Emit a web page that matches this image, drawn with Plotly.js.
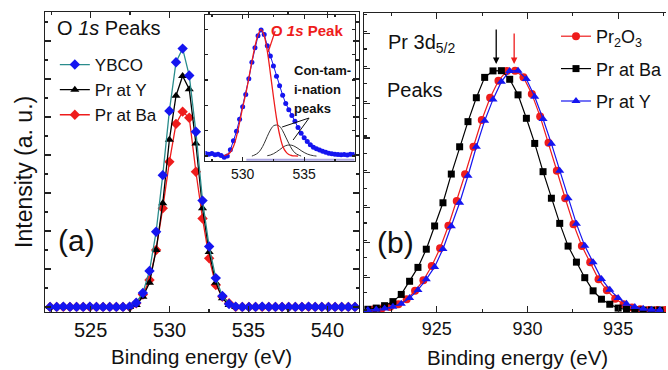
<!DOCTYPE html>
<html><head><meta charset="utf-8">
<script src="https://cdn.plot.ly/plotly-3.0.1.min.js"></script>
<style>html,body{margin:0;padding:0;background:#fff}#c{width:668px;height:370px}</style>
</head><body><div id="c"></div>
<script>
// ---------- Panel (a): O 1s peaks ----------
const energyA = [522.43,522.85,523.27,523.69,524.11,524.53,524.95,525.37,525.79,526.21,526.63,527.05,527.47,527.89,528.31,528.73,529.15,529.57,529.99,530.41,530.83,531.25,531.67,532.09,532.51,532.93,533.35,533.77,534.19,534.61,535.03,535.45,535.87,536.29,536.71,537.13,537.55,537.97,538.39,538.81,539.23,539.65,540.07,540.49,540.91,541.33,541.75];
const ybco    = [0,0,0.01,0,0,0,0.01,0,0,0,0,0,0.01,0.11,0.37,0.95,1.98,3.47,5.16,6.44,6.80,6.09,4.61,2.80,1.59,0.76,0.29,0.08,0.01,0,0,0,0.01,0,0,0,0,0,0,0.01,0,0,0,0,0,0,0];
const prAtY_a = [0,0,0,0,0,0,0,0,0,0,0,0,0,0.05,0.27,0.64,1.5,2.73,4.4,5.56,6.08,5.73,4.3,2.6,1.45,0.64,0.23,0.05,0,0,0,0,0,0,0,0,0,0,0,0,0,0,0,0,0,0,0];
const prAtBa_a= [0,0,0,0,0,0,0,0,0,0,0,0,0,0.1,0.33,0.71,1.5,2.6,3.82,4.82,5.14,4.98,3.56,2.33,1.28,0.58,0.27,0.1,0,0,0,0,0,0,0,0,0,0,0,0,0,0,0,0,0,0,0];

// ---------- Inset: O 1s fit ----------
const insetE = [527.0,527.25,527.5,527.75,528.0,528.25,528.5,528.75,529.0,529.25,529.5,529.75,530.0,530.25,530.5,530.75,531.0,531.25,531.5,531.75,532.0,532.25,532.5,532.75,533.0,533.25,533.5,533.75,534.0,534.25,534.5,534.75,535.0,535.25,535.5,535.75,536.0,536.25,536.5,536.75,537.0,537.25,537.5,537.75,538.0,538.25,538.5,538.75,539.0];
const insetData = [0.02,0.015,0.02,0.01,0.015,0.005,-0.01,0.0,0.05,0.12,0.195,0.29,0.39,0.485,0.61,0.74,0.855,0.95,0.995,0.96,0.87,0.79,0.71,0.63,0.555,0.48,0.415,0.365,0.32,0.275,0.225,0.18,0.145,0.115,0.09,0.07,0.058,0.047,0.038,0.03,0.022,0.018,0.015,0.012,0.01,0.012,0.008,0.015,0.012];
const mainFitE = [528.5,528.75,529.0,529.25,529.5,529.75,530.0,530.25,530.5,530.75,531.0,531.25,531.5,531.75,532.0,532.25,532.5,532.75,533.0,533.25,533.5,533.75,534.0,534.25,534.5];
const mainFit  = [0.003,0.012,0.03,0.075,0.155,0.265,0.385,0.49,0.615,0.745,0.865,0.955,0.997,0.95,0.83,0.655,0.47,0.3,0.17,0.08,0.035,0.012,0.004,0.001,0];
const cont1E = [530.75,531.0,531.25,531.5,531.75,532.0,532.25,532.5,532.75,533.0,533.25,533.5,533.75,534.0,534.25,534.5,534.75];
const cont1  = [0,0.01,0.025,0.055,0.1,0.155,0.205,0.238,0.245,0.235,0.2,0.15,0.1,0.055,0.025,0.01,0];
const cont2E = [532.0,532.25,532.5,532.75,533.0,533.25,533.5,533.75,534.0,534.25,534.5,534.75,535.0,535.25,535.5,535.75,536.0];
const cont2  = [0.003,0.008,0.018,0.033,0.05,0.068,0.082,0.087,0.085,0.075,0.06,0.043,0.028,0.016,0.008,0.003,0];
const bgE = [530.3,539.1];
const bgY = [-0.03,-0.03];

// ---------- Panel (b): Pr 3d5/2 peaks ----------
const energyB1 = [921.2,921.66,922.12,922.58,923.04,923.5,923.96,924.42,924.88,925.34,925.8,926.26,926.72,927.18,927.64,928.1,928.56,929.02,929.48,929.94,930.4,930.86,931.32,931.78,932.24,932.7,933.16,933.62,934.08,934.54,935.0,935.46,935.92,936.38,936.84,937.3];
const energyB2 = [921.5,921.96,922.42,922.88,923.34,923.8,924.26,924.72,925.18,925.64,926.1,926.56,927.02,927.48,927.94,928.4,928.86,929.32,929.78,930.24,930.7,931.16,931.62,932.08,932.54,933.0,933.46,933.92,934.38,934.84,935.3,935.76,936.22,936.68,937.14,937.6];
const pr2o3  = [0.002,0.006,0.012,0.024,0.045,0.08,0.124,0.184,0.258,0.352,0.455,0.567,0.682,0.794,0.887,0.958,0.999,1.0,0.973,0.903,0.808,0.699,0.582,0.467,0.358,0.267,0.2,0.128,0.082,0.047,0.024,0.01,0.003,0,0,0];
const prAtBa_b = [0.003,0.008,0.018,0.035,0.065,0.12,0.178,0.254,0.351,0.448,0.568,0.682,0.787,0.887,0.972,0.999,1.0,0.964,0.899,0.801,0.696,0.578,0.467,0.362,0.267,0.2,0.135,0.08,0.045,0.024,0.008,0.002,0,0,0,0];
const prAtY_b  = [0,0.002,0.006,0.014,0.026,0.05,0.084,0.128,0.18,0.255,0.35,0.448,0.561,0.682,0.791,0.88,0.954,0.999,1.0,0.965,0.891,0.798,0.695,0.582,0.467,0.36,0.268,0.2,0.13,0.085,0.05,0.026,0.012,0.005,0.001,0];

const legendA = ['YBCO','Pr at Y','Pr at Ba'];
const legendB = ['Pr<sub>2</sub>O<sub>3</sub>','Pr at Ba','Pr at Y'];

// ---------- layout helpers ----------
const W=668,H=370;
const px=x=>x/W, py=y=>1-y/H;
const FONT='Arial, "Liberation Sans", sans-serif';
const AX='#222';

const traces = [
  {x:energyA,y:prAtBa_a,xaxis:'x',yaxis:'y',name:legendA[2],mode:'lines+markers',legendrank:3,legend:'legend',legendgroup:'a3',
   line:{color:'#ee1c1c',width:1.3},marker:{symbol:'diamond',size:8,color:'#ee1c1c'}},
  {x:energyA,y:prAtY_a,xaxis:'x',yaxis:'y',name:legendA[1],mode:'lines+markers',legendrank:2,legend:'legend',legendgroup:'a2',
   line:{color:'#000',width:1.3},marker:{symbol:'triangle-up',size:8,color:'#000'}},
  {x:energyA,y:ybco,xaxis:'x',yaxis:'y',name:legendA[0],mode:'lines+markers',legendrank:1,legend:'legend',legendgroup:'a1',
   line:{color:'#2a8c8c',width:1.3},marker:{symbol:'diamond',size:8,color:'#1515f0'}},
  // inset
  {x:bgE,y:bgY,xaxis:'x3',yaxis:'y3',mode:'lines',showlegend:false,line:{color:'#aaa4e2',width:2}},
  {x:insetE,y:insetData,xaxis:'x3',yaxis:'y3',mode:'lines+markers',showlegend:false,
   line:{color:'#1515f0',width:1},marker:{symbol:'circle',size:5,color:'#1515f0'}},
  {x:cont1E,y:cont1,xaxis:'x3',yaxis:'y3',mode:'lines',showlegend:false,line:{color:'#333',width:1,shape:'spline'}},
  {x:cont2E,y:cont2,xaxis:'x3',yaxis:'y3',mode:'lines',showlegend:false,line:{color:'#333',width:1,shape:'spline'}},
  {x:mainFitE,y:mainFit,xaxis:'x3',yaxis:'y3',mode:'lines',showlegend:false,line:{color:'#ee1c1c',width:1.3,shape:'spline'}},
  // panel b
  {x:energyB2,y:pr2o3,xaxis:'x2',yaxis:'y2',name:legendB[0],mode:'lines+markers',legend:'legend2',legendgroup:'b1',
   line:{color:'#ee1c1c',width:1.2},marker:{symbol:'circle',size:8,color:'#ee1c1c'}},
  {x:energyB1,y:prAtBa_b,xaxis:'x2',yaxis:'y2',name:legendB[1],mode:'lines+markers',legend:'legend2',legendgroup:'b2',
   line:{color:'#000',width:1.2},marker:{symbol:'square',size:7,color:'#000'}},
  {x:energyB1,y:prAtY_b,xaxis:'x2',yaxis:'y2',name:legendB[2],mode:'lines+markers',legend:'legend2',legendgroup:'b3',
   line:{color:'#1515f0',width:1.2},marker:{symbol:'triangle-up',size:8,color:'#1515f0'}}
];

const baseAx = {showline:true,linecolor:AX,linewidth:1.3,ticks:'inside',tickcolor:AX,tickwidth:1.2,
  showgrid:false,zeroline:false,mirror:'allticks',fixedrange:true};

const layout = {
  width:W,height:H,margin:{l:0,r:0,t:0,b:0},paper_bgcolor:'#fff',plot_bgcolor:'rgba(0,0,0,0)',
  font:{family:FONT,color:'#111'},
  xaxis:Object.assign({},baseAx,{domain:[px(45),px(360)],range:[522.1,542.0],anchor:'y',tick0:525,dtick:5,ticklen:6,
    minor:{dtick:2.5,ticklen:3,ticks:'inside',tickcolor:AX,tickwidth:1.2},tickfont:{size:20,family:FONT,color:'#111'}}),
  yaxis:Object.assign({},baseAx,{domain:[py(311.7),py(12)],range:[-0.124,7.763],anchor:'x',tick0:0,dtick:1,ticklen:6,
    showticklabels:false,minor:{dtick:0.5,ticklen:3,ticks:'inside',tickcolor:AX,tickwidth:1.2}}),
  xaxis2:Object.assign({},baseAx,{domain:[px(365),1],range:[920.98,937.64],anchor:'y2',tick0:925,dtick:5,ticklen:6,
    minor:{dtick:2.5,ticklen:3,ticks:'inside',tickcolor:AX,tickwidth:1.2},tickfont:{size:18,family:FONT,color:'#111'}}),
  yaxis2:Object.assign({},baseAx,{domain:[py(312),py(13)],range:[-0.0084,1.241],anchor:'x2',mirror:false,
    tick0:-0.0084,dtick:0.1454,ticklen:6,showticklabels:false,
    minor:{dtick:0.0727,ticklen:3,ticks:'inside',tickcolor:AX,tickwidth:1.2}}),
  xaxis3:Object.assign({},baseAx,{domain:[px(206),px(355.7)],range:[526.97,539.1],anchor:'y3',tick0:530,dtick:5,ticklen:4,
    linewidth:1.1,minor:{dtick:2.5,ticklen:2,ticks:'inside',tickcolor:AX},tickfont:{size:14,family:FONT,color:'#111'}}),
  yaxis3:Object.assign({},baseAx,{domain:[py(161),py(15)],range:[-0.039,1.113],anchor:'x3',tick0:0,dtick:0.2,ticklen:3,
    linewidth:1.1,showticklabels:false}),
  legend:{x:px(55),y:py(47),xanchor:'left',yanchor:'top',bgcolor:'rgba(0,0,0,0)',font:{size:17,family:FONT,color:'#111'},
    tracegroupgap:0,traceorder:'normal'},
  legend2:{x:px(558),y:py(18),xanchor:'left',yanchor:'top',bgcolor:'rgba(0,0,0,0)',font:{size:18,family:FONT,color:'#111'},
    tracegroupgap:6,traceorder:'grouped'},
  showlegend:true,
  annotations:[
    {xref:'paper',yref:'paper',x:px(55),y:py(28),xanchor:'left',yanchor:'middle',showarrow:false,
     text:'O <i>1s</i> Peaks',font:{size:20,family:FONT,color:'#111'}},
    {xref:'paper',yref:'paper',x:px(56),y:py(240),xanchor:'left',yanchor:'middle',showarrow:false,
     text:'(a)',font:{size:30,family:FONT,color:'#111'}},
    {xref:'paper',yref:'paper',x:px(24),y:py(172),xanchor:'center',yanchor:'middle',showarrow:false,textangle:-90,
     text:'Intensity (a. u.)',font:{size:23,family:FONT,color:'#111'}},
    {xref:'paper',yref:'paper',x:px(202.5),y:py(356),xanchor:'center',yanchor:'middle',showarrow:false,
     text:'Binding energy (eV)',font:{size:20.5,family:FONT,color:'#111'}},
    {xref:'paper',yref:'paper',x:px(519),y:py(357),xanchor:'center',yanchor:'middle',showarrow:false,
     text:'Binding energy (eV)',font:{size:20.5,family:FONT,color:'#111'}},
    {xref:'paper',yref:'paper',x:px(270),y:py(30),xanchor:'left',yanchor:'middle',showarrow:false,
     text:'<b>O <i>1s</i> Peak</b>',font:{size:15,family:FONT,color:'#ee1c1c'}},
    {xref:'paper',yref:'paper',x:px(293),y:py(70),xanchor:'left',yanchor:'middle',showarrow:false,
     text:'<b>Con-tam-</b>',font:{size:13,family:FONT,color:'#111'}},
    {xref:'paper',yref:'paper',x:px(293),y:py(89),xanchor:'left',yanchor:'middle',showarrow:false,
     text:'<b>i-nation</b>',font:{size:13,family:FONT,color:'#111'}},
    {xref:'paper',yref:'paper',x:px(293),y:py(108),xanchor:'left',yanchor:'middle',showarrow:false,
     text:'<b>peaks</b>',font:{size:13,family:FONT,color:'#111'}},
    {xref:'paper',yref:'paper',x:px(387),y:py(43),xanchor:'left',yanchor:'middle',showarrow:false,
     text:'Pr 3d<sub>5/2</sub>',font:{size:20,family:FONT,color:'#111'}},
    {xref:'paper',yref:'paper',x:px(386),y:py(90),xanchor:'left',yanchor:'middle',showarrow:false,
     text:'Peaks',font:{size:20,family:FONT,color:'#111'}},
    {xref:'paper',yref:'paper',x:px(376),y:py(242),xanchor:'left',yanchor:'middle',showarrow:false,
     text:'(b)',font:{size:30,family:FONT,color:'#111'}},
    {xref:'paper',yref:'paper',x:px(497.7),y:py(64),text:'',showarrow:true,ax:0,ay:-36,
     arrowhead:2,arrowsize:1,arrowwidth:1.3,arrowcolor:'#000'},
    {xref:'paper',yref:'paper',x:px(515.7),y:py(64),text:'',showarrow:true,ax:0,ay:-32,
     arrowhead:2,arrowsize:1,arrowwidth:1.3,arrowcolor:'#ee1c1c'}
  ],
  shapes:[
    {type:'line',xref:'paper',yref:'paper',x0:px(276),y0:py(31),x1:px(269),y1:py(52),line:{color:'#ee1c1c',width:1.2}},
    {type:'line',xref:'paper',yref:'paper',x0:px(310),y0:py(118),x1:px(283),y1:py(127),line:{color:'#111',width:1}},
    {type:'line',xref:'paper',yref:'paper',x0:px(310),y0:py(118),x1:px(294),y1:py(140),line:{color:'#111',width:1}}
  ]
};

Plotly.newPlot('c',traces,layout,{staticPlot:true,displayModeBar:false});
</script></body></html>
